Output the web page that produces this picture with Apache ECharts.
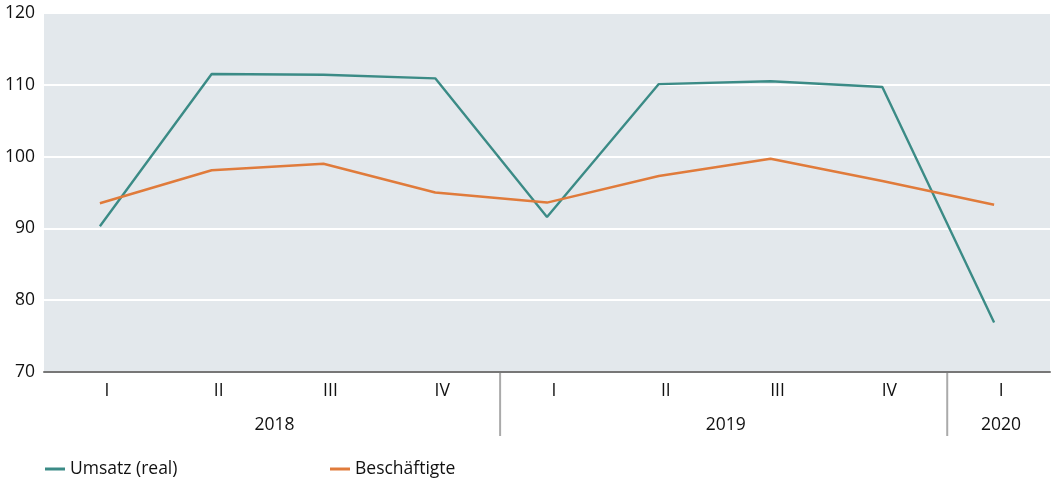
<!DOCTYPE html>
<html><head><meta charset="utf-8">
<script src="https://cdn.jsdelivr.net/npm/echarts@6/dist/echarts.min.js"></script>
<style>html,body{margin:0;padding:0;background:#fff}#c{width:1051px;height:481px}</style>
</head><body><div id="c"></div>
<script>
const quarters = ['I','II','III','IV','I','II','III','IV','I'];
const years = ['2018','2019','2020'];
const yearCounts = [4,4,1];
const umsatz = [90.3, 111.5, 111.4, 110.9, 91.6, 110.1, 110.5, 109.7, 76.9];
const beschaeftigte = [93.5, 98.1, 99.0, 95.0, 93.6, 97.3, 99.7, 96.6, 93.3];
const yTicks = {min:70, max:120, interval:10};

const FONT = 'Open Sans';
const FS = 17.5;
const TEAL = '#3b8b86', ORANGE = '#e07b3b';
const chart = echarts.init(document.getElementById('c'), null, {renderer:'canvas'});
const labelStyle = {color:'#111111', fontSize:FS, fontFamily:FONT};
const option = {
  animation:false,
  textStyle:{fontFamily:FONT},
  grid:{left:44, right:1, top:13, bottom:109, show:true, backgroundColor:'#e3e8ec', borderWidth:0},
  xAxis:{type:'category', data:quarters, boundaryGap:true,
    axisLine:{lineStyle:{color:'#777', width:2}}, axisTick:{show:false},
    axisLabel:Object.assign({margin:10, padding:[0,0,0,14]}, labelStyle)},
  yAxis:{type:'value', min:yTicks.min, max:yTicks.max, interval:yTicks.interval,
    axisLine:{show:false}, axisTick:{show:false},
    splitLine:{lineStyle:{color:'#ffffff', width:2}},
    axisLabel:Object.assign({margin:9}, labelStyle)},
  legend:[
    {data:['Umsatz (real)'], left:40, top:455, icon:'rect', itemWidth:20, itemHeight:3,
     textStyle:labelStyle},
    {data:['Beschäftigte'], left:325, top:455, icon:'rect', itemWidth:20, itemHeight:3,
     textStyle:labelStyle}
  ],
  series:[
    {name:'Umsatz (real)', type:'line', data:umsatz, color:TEAL, showSymbol:false, symbol:'none',
     lineStyle:{width:2.4, color:TEAL}},
    {name:'Beschäftigte', type:'line', data:beschaeftigte, color:ORANGE, showSymbol:false, symbol:'none',
     lineStyle:{width:2.4, color:ORANGE}}
  ]
};
chart.setOption(option);

// year labels and separators from the axis scale
const shift = 7;
const g = [];
let start = 0;
const yAxisPix = chart.convertToPixel({yAxisIndex:0}, yTicks.min);
const step = chart.convertToPixel({xAxisIndex:0}, 1) - chart.convertToPixel({xAxisIndex:0}, 0);
years.forEach((y, k) => {
  const end = start + yearCounts[k] - 1;
  const x0 = chart.convertToPixel({xAxisIndex:0}, start);
  const x1 = chart.convertToPixel({xAxisIndex:0}, end);
  g.push({type:'text', x:(x0+x1)/2 + shift + (k===1?4:0), y:yAxisPix + 44,
    style:{text:y, fill:'#111111', font:FS + 'px "Open Sans"', align:'center', verticalAlign:'top'}});
  if (k < years.length - 1) {
    const xs = x1 + step/2 + shift + 2;
    g.push({type:'line', shape:{x1:xs, y1:yAxisPix, x2:xs, y2:yAxisPix + 64},
      style:{stroke:'#aaaaaa', lineWidth:2}});
  }
  start = end + 1;
});
chart.setOption({graphic:g});
</script></body></html>
